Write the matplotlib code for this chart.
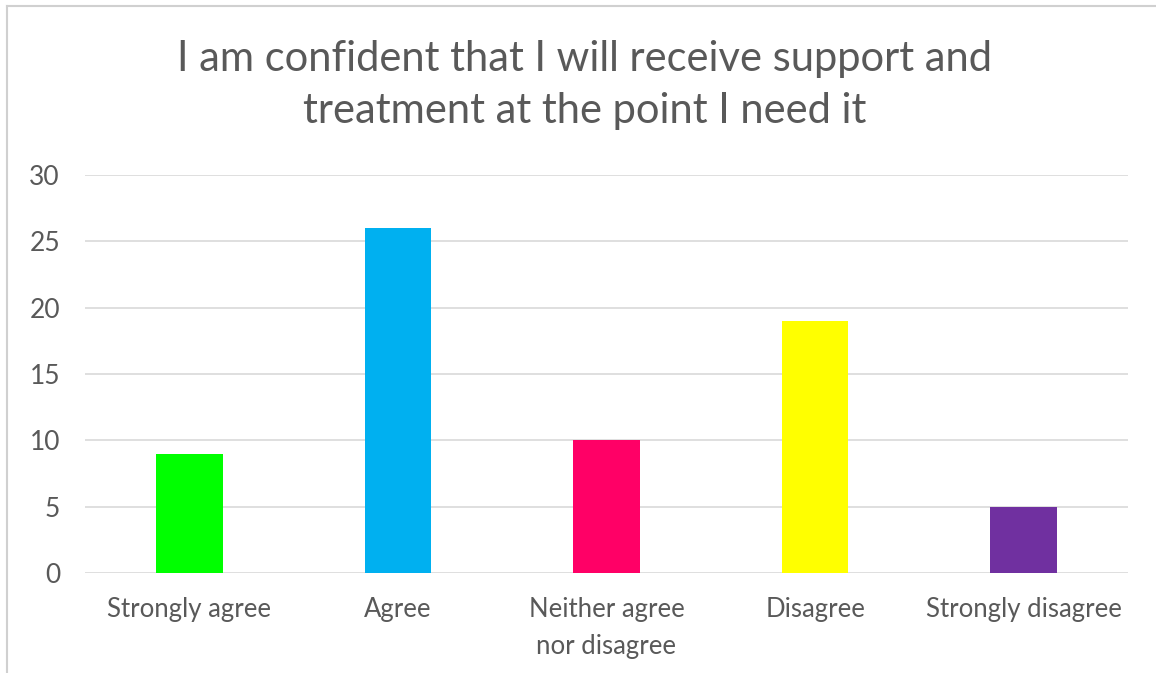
import matplotlib.pyplot as plt
from matplotlib.lines import Line2D

categories = ["Strongly agree", "Agree", "Neither agree\nnor disagree", "Disagree", "Strongly disagree"]
counts = [9, 26, 10, 19, 5]
bar_colors = ["#00FF00", "#00B0F0", "#FF0066", "#FFFF00", "#7030A0"]
y_ticks = [0, 5, 10, 15, 20, 25, 30]

plt.rcParams['font.family'] = ['Lato', 'DejaVu Sans']

fig = plt.figure(figsize=(11.56, 6.73), dpi=100)
ax = fig.add_axes([85 / 1156, 1 - 573 / 673, 1043 / 1156, 398 / 673])

x = range(len(categories))
ax.bar(x, counts, width=0.32, color=bar_colors, zorder=3)

ax.set_xlim(-0.5, len(categories) - 0.5)
ax.set_ylim(0, 30)
ax.set_yticks(y_ticks)
ax.set_xticks(list(x))
ax.set_xticklabels(categories, linespacing=1.6)

ax.yaxis.grid(True, color="#d9d9d9", linewidth=1.2, zorder=0)
ax.set_axisbelow(True)
for side in ["top", "right", "left", "bottom"]:
    ax.spines[side].set_visible(False)
ax.tick_params(axis="y", length=0, pad=18, labelsize=19, labelcolor="#595959")
ax.tick_params(axis="x", length=0, pad=17, labelsize=18.5, labelcolor="#595959")

fig.text(0.506, 1 - 40 / 673, "I am confident that I will receive support and\ntreatment at the point I need it",
         ha="center", va="top", fontsize=30, color="#595959", linespacing=1.46)

# outer chart frame (left and top edges)
fig.add_artist(Line2D([7 / 1156, 7 / 1156], [0, 1 - 6 / 673], transform=fig.transFigure,
                      color="#d0d0d0", linewidth=1.5))
fig.add_artist(Line2D([7 / 1156, 1], [1 - 6 / 673, 1 - 6 / 673], transform=fig.transFigure,
                      color="#d0d0d0", linewidth=1.5))

fig.savefig("out.png", dpi=100)
